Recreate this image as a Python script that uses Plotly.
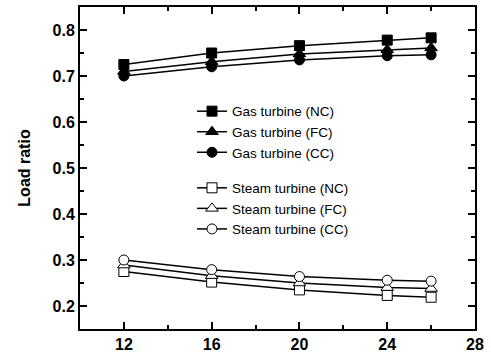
import plotly.graph_objects as go

x_vals = [12, 16, 20, 24, 26]

gas_nc = [0.725, 0.750, 0.766, 0.778, 0.783]
gas_fc = [0.710, 0.731, 0.748, 0.757, 0.761]
gas_cc = [0.700, 0.720, 0.735, 0.744, 0.746]

steam_nc = [0.275, 0.252, 0.235, 0.223, 0.219]
steam_fc = [0.289, 0.266, 0.250, 0.240, 0.238]
steam_cc = [0.300, 0.279, 0.264, 0.256, 0.254]

series = [
    ("Gas turbine (NC)", gas_nc, "square", "gas"),
    ("Gas turbine (FC)", gas_fc, "triangle-up", "gas"),
    ("Gas turbine (CC)", gas_cc, "circle", "gas"),
    ("Steam turbine (NC)", steam_nc, "square-open", "steam"),
    ("Steam turbine (FC)", steam_fc, "triangle-up-open", "steam"),
    ("Steam turbine (CC)", steam_cc, "circle-open", "steam"),
]

fig = go.Figure()
for name, vals, sym, grp in series:
    open_sym = sym.endswith("open")
    base = sym.replace("-open", "")
    fig.add_trace(go.Scatter(
        x=x_vals, y=vals, name=name, mode="lines+markers",
        legendgroup=grp,
        line=dict(color="black", width=1.5),
        marker=dict(symbol=base, size=10 if base != "triangle-up" else 11,
                    color="white" if open_sym else "black",
                    line=dict(color="black", width=1)),
    ))

tick_font = dict(family="Liberation Sans", size=16, color="black", weight="bold")
axis_common = dict(
    showline=True, linecolor="black", linewidth=2, mirror="allticks",
    ticks="inside", ticklen=7, tickwidth=1.5, tickcolor="black",
    showgrid=False, zeroline=False,
    tickfont=tick_font,
)

fig.update_xaxes(range=[10, 28], tick0=12, dtick=4,
                 minor=dict(dtick=2, ticks="inside", ticklen=4, tickwidth=1.5, tickcolor="black"),
                 **axis_common)
fig.update_yaxes(range=[0.15, 0.85], tick0=0.2, dtick=0.1, tickformat=".1f",
                 minor=dict(dtick=0.05, ticks="inside", ticklen=4, tickwidth=1.5, tickcolor="black"),
                 title=dict(text="Load ratio", font=tick_font, standoff=18),
                 **axis_common)

fig.update_layout(
    width=491, height=358,
    margin=dict(l=80, r=16, t=5, b=27),
    plot_bgcolor="white", paper_bgcolor="white",
    showlegend=True,
    legend=dict(x=(192 - 80) / 395, y=(331 - 95) / 326, xanchor="left", yanchor="top",
                bgcolor="rgba(0,0,0,0)", tracegroupgap=15,
                font=dict(family="Liberation Sans", size=13.5, color="black")),
)

fig.write_html("out.html")
